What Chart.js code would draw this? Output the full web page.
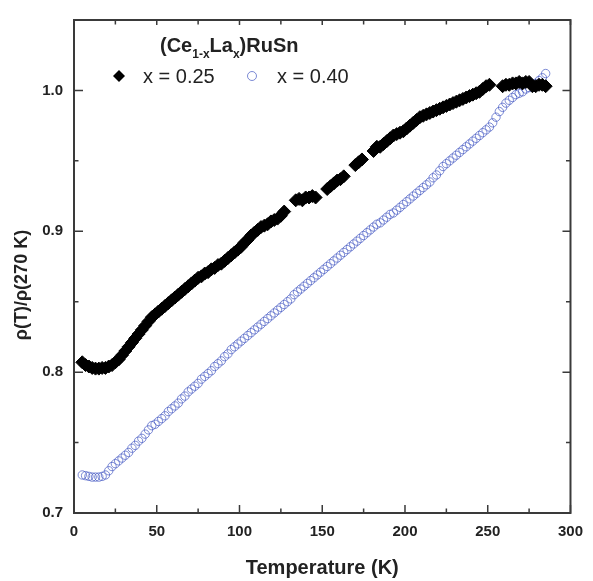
<!DOCTYPE html>
<html>
<head>
<meta charset="utf-8">
<script src="https://cdn.jsdelivr.net/npm/chart.js@4.4.1/dist/chart.umd.min.js"></script>
<style>
    body { margin: 0; background: #fff; }
    .chart-box { width: 593px; height: 581px; }
</style>
</head>
<body>
<div class="chart-box">
    <canvas id="myChart" width="593" height="581"></canvas>
</div>

<script>
// x = 0.25 (filled diamonds)
const tempA = [5,7,9,11,13,15,17,19,21,23,25,27,29,31,33,35,37,39,41,43,45,47,49,51,53,55,57,59,61,63,65,67,69,71,73,75,77,79,81,83,85,87,89,91,93,95,97,99,
    101,103,105,107,109,111,113,115,117,119,121,123,125,127,
    134,136,138,140,142,144,146,
    153,155,157,159,161,163,
    170,172,174,
    181,183,185,187,189,191,193,195,197,199,201,203,205,207,209,211,213,215,217,219,221,223,225,227,229,231,233,235,237,239,241,243,245,247,249,251,
    259,261,263,265,267,269,271,273,275,277,279,281,283,285];
const rhoA = [0.807,0.805,0.804,0.803,0.8025,0.8025,0.803,0.803,0.804,0.805,0.807,0.809,0.812,0.815,0.818,0.821,0.824,0.827,0.830,0.833,0.836,0.839,0.841,0.843,0.845,0.847,0.849,0.851,0.853,0.855,0.857,0.859,0.861,0.863,0.865,0.867,0.868,0.870,0.871,0.873,0.874,0.876,0.877,0.879,0.881,0.883,0.885,0.887,
    0.889,0.892,0.894,0.897,0.899,0.901,0.903,0.904,0.905,0.907,0.908,0.909,0.911,0.914,
    0.922,0.923,0.922,0.924,0.924,0.925,0.924,
    0.930,0.932,0.934,0.936,0.937,0.939,
    0.947,0.949,0.951,
    0.957,0.960,0.960,0.962,0.964,0.966,0.968,0.969,0.970,0.971,0.973,0.975,0.977,0.979,0.981,0.982,0.983,0.984,0.985,0.986,0.987,0.988,0.989,0.990,0.991,0.992,0.993,0.994,0.995,0.996,0.997,0.998,0.999,1.001,1.003,1.004,
    1.003,1.004,1.004,1.005,1.005,1.006,1.005,1.006,1.006,1.003,1.003,1.004,1.004,1.003];

// x = 0.40 (open circles)
const tempB = [5,7,9,11,13,15,17,19,21,23,25,27,29,31,33,35,37,39,41,43,45,47,49,51,53,55,57,59,61,63,65,67,69,71,73,75,77,79,81,83,85,87,89,91,93,95,97,99,
    101,103,105,107,109,111,113,115,117,119,121,123,125,127,129,131,133,135,137,139,141,143,145,147,149,151,153,155,157,159,161,163,165,167,169,171,173,175,177,179,181,183,185,187,189,191,193,195,197,199,
    201,203,205,207,209,211,213,215,217,219,221,223,225,227,229,231,233,235,237,239,241,243,245,247,249,251,253,255,257,259,261,263,265,267,269,271,273,275,277,279,281,283,285];
const rhoB = [0.727,0.7265,0.726,0.7255,0.7255,0.7255,0.726,0.727,0.730,0.733,0.735,0.737,0.739,0.741,0.743,0.746,0.748,0.751,0.753,0.756,0.759,0.762,0.763,0.765,0.767,0.769,0.772,0.774,0.776,0.778,0.781,0.783,0.786,0.788,0.790,0.792,0.795,0.797,0.799,0.801,0.804,0.806,0.808,0.811,0.813,0.816,0.818,0.820,
    0.822,0.824,0.826,0.828,0.830,0.832,0.834,0.836,0.838,0.840,0.842,0.844,0.846,0.848,0.850,0.852,0.855,0.857,0.859,0.861,0.863,0.865,0.867,0.869,0.871,0.873,0.875,0.877,0.879,0.881,0.883,0.885,0.887,0.889,0.891,0.893,0.895,0.897,0.899,0.901,0.903,0.905,0.906,0.908,0.910,0.912,0.913,0.915,0.917,0.919,
    0.921,0.923,0.925,0.927,0.929,0.931,0.933,0.935,0.938,0.940,0.943,0.946,0.948,0.950,0.952,0.954,0.956,0.958,0.960,0.962,0.964,0.966,0.968,0.970,0.972,0.974,0.977,0.981,0.985,0.988,0.991,0.993,0.995,0.997,0.998,0.999,1.001,1.002,1.004,1.005,1.007,1.009,1.012];

const xTicks = [0, 50, 100, 150, 200, 250, 300];
const yTicks = [0.7, 0.8, 0.9, 1.0];
const xMinor = [25, 75, 125, 175, 225, 275];
const yMinor = [0.75, 0.85, 0.95];

const blue = 'rgba(70, 90, 195, 0.7)';
const axisColor = '#3a3a3a';

function toPoints(xs, ys) {
    return xs.map((t, i) => ({ x: t, y: ys[i] }));
}

// 框線、內向刻度、座標軸標題、圖例
const decorPlugin = {
    id: 'decor',
    afterDraw(chart) {
        const ctx = chart.ctx;
        const a = chart.chartArea;
        const sx = chart.scales.x, sy = chart.scales.y;
        ctx.save();
        ctx.strokeStyle = axisColor;
        ctx.lineWidth = 2;
        ctx.strokeRect(a.left, a.top, a.right - a.left, a.bottom - a.top);

        ctx.lineWidth = 1.5;
        ctx.beginPath();
        xTicks.forEach(v => {
            const px = sx.getPixelForValue(v);
            ctx.moveTo(px, a.bottom); ctx.lineTo(px, a.bottom - 8);
            ctx.moveTo(px, a.top); ctx.lineTo(px, a.top + 5);
        });
        xMinor.forEach(v => {
            const px = sx.getPixelForValue(v);
            ctx.moveTo(px, a.bottom); ctx.lineTo(px, a.bottom - 4.5);
            ctx.moveTo(px, a.top); ctx.lineTo(px, a.top + 4.5);
        });
        yTicks.forEach(v => {
            const py = sy.getPixelForValue(v);
            ctx.moveTo(a.left, py); ctx.lineTo(a.left + 9, py);
            ctx.moveTo(a.right, py); ctx.lineTo(a.right - 8, py);
        });
        yMinor.forEach(v => {
            const py = sy.getPixelForValue(v);
            ctx.moveTo(a.left, py); ctx.lineTo(a.left + 4.5, py);
            ctx.moveTo(a.right, py); ctx.lineTo(a.right - 4.5, py);
        });
        ctx.stroke();

        // axis titles
        ctx.fillStyle = '#222';
        ctx.textAlign = 'center';
        ctx.textBaseline = 'middle';
        ctx.font = 'bold 20px "Liberation Sans", Arial, sans-serif';
        ctx.fillText('Temperature (K)', (a.left + a.right) / 2, 568);
        ctx.save();
        ctx.translate(22, 285);
        ctx.rotate(-Math.PI / 2);
        ctx.font = 'bold 18px "Liberation Sans", Arial, sans-serif';
        ctx.fillText('\u03C1(T)/\u03C1(270 K)', 0, 0);
        ctx.restore();

        // legend title (Ce1-xLax)RuSn
        ctx.textAlign = 'left';
        ctx.textBaseline = 'alphabetic';
        const big = 'bold 20px "Liberation Sans", Arial, sans-serif';
        const small = 'bold 12px "Liberation Sans", Arial, sans-serif';
        const parts = [['(Ce', big, 52], ['1-x', small, 58], ['La', big, 52], ['x', small, 58], [')RuSn', big, 52]];
        let x = 160;
        parts.forEach(p => {
            ctx.font = p[1];
            ctx.fillText(p[0], x, p[2]);
            x += ctx.measureText(p[0]).width;
        });

        // legend entries
        ctx.font = '20px "Liberation Sans", Arial, sans-serif';
        ctx.textBaseline = 'middle';
        ctx.fillStyle = '#000';
        ctx.beginPath();
        ctx.moveTo(113, 76); ctx.lineTo(119, 70); ctx.lineTo(125, 76); ctx.lineTo(119, 82);
        ctx.closePath();
        ctx.fill();
        ctx.fillStyle = '#222';
        ctx.fillText('x = 0.25', 143, 77);
        ctx.strokeStyle = blue;
        ctx.lineWidth = 1;
        ctx.beginPath();
        ctx.arc(252, 76, 4.5, 0, Math.PI * 2);
        ctx.stroke();
        ctx.fillText('x = 0.40', 277, 77);
        ctx.restore();
    }
};

new Chart(document.getElementById('myChart'), {
    type: 'scatter',
    data: {
        datasets: [{
            label: 'x = 0.25',
            data: toPoints(tempA, rhoA),
            pointStyle: 'rectRot',
            pointRadius: 6.5,
            backgroundColor: '#000',
            borderColor: '#000',
            borderWidth: 1
        }, {
            label: 'x = 0.40',
            data: toPoints(tempB, rhoB),
            pointStyle: 'circle',
            pointRadius: 4.2,
            backgroundColor: 'rgba(0,0,0,0)',
            borderColor: blue,
            borderWidth: 1
        }]
    },
    options: {
        responsive: false,
        animation: false,
        layout: { padding: { top: 12, right: 16, left: 0, bottom: 0 } },
        plugins: {
            legend: { display: false },
            tooltip: { enabled: false }
        },
        scales: {
            x: {
                type: 'linear',
                min: 0, max: 300,
                grid: { display: false, drawTicks: false },
                border: { display: false },
                ticks: {
                    stepSize: 50,
                    padding: 10,
                    color: '#222',
                    font: { family: '"Liberation Sans", Arial, sans-serif', size: 15, weight: 'bold' }
                },
                afterFit(scale) { scale.height = 68; }
            },
            y: {
                type: 'linear',
                min: 0.7, max: 1.05,
                grid: { display: false, drawTicks: false },
                border: { display: false },
                ticks: {
                    stepSize: 0.1,
                    includeBounds: false,
                    padding: 11,
                    color: '#222',
                    font: { family: '"Liberation Sans", Arial, sans-serif', size: 15, weight: 'bold' },
                    callback: v => Number(v).toFixed(1)
                },
                afterFit(scale) { scale.width = 74; }
            }
        }
    },
    plugins: [decorPlugin]
});
</script>
</body>
</html>
